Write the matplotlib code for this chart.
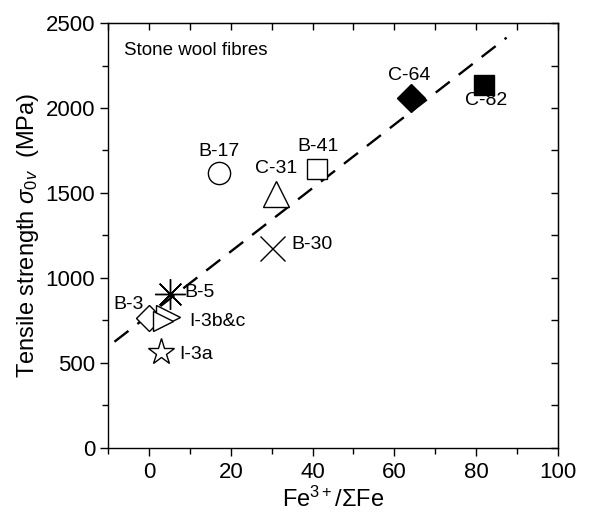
import matplotlib
matplotlib.use("Agg")
import matplotlib.pyplot as plt
from matplotlib.ticker import MultipleLocator

plt.rcParams['font.family'] = ['Liberation Sans', 'DejaVu Sans']
plt.rcParams['mathtext.fontset'] = 'custom'
plt.rcParams['mathtext.rm'] = 'Liberation Sans'
plt.rcParams['mathtext.it'] = 'Liberation Sans:italic'
plt.rcParams['mathtext.bf'] = 'Liberation Sans:bold'

# Fibre samples: Fe3+/sum Fe ratio (%) and tensile strength (MPa)
samples = ["B-17", "C-31", "B-41", "C-64", "C-82", "B-30", "B-5", "B-3", "I-3b", "I-3c", "I-3a"]
fe_ratio = [17, 31, 41, 64, 82, 30, 5, 0, 4.5, 3.5, 3]
strength = [1615, 1495, 1640, 2060, 2135, 1175, 905, 765, 770, 745, 565]

# Linear trend line end points
fit_x = [-8.5, 87.5]
fit_y = [625, 2414]

# Marker style per sample: (marker, size, filled)
styles = {
    "B-17": ("o", 16, False),
    "C-31": ("^", 19, False),
    "B-41": ("s", 15, False),
    "C-64": ("D", 14, True),
    "C-82": ("s", 15, True),
    "B-30": ("x", 18, False),
    "B-5": ((8, 2, 0), 22, False),
    "B-3": ("D", 13, False),
    "I-3b": (">", 17, False),
    "I-3c": (">", 15, False),
    "I-3a": ("*", 20, False),
}

# Label text and offset (points) for each labelled sample
labels = {
    "B-17": ("B-17", (0, 16)),
    "C-31": ("C-31", (0, 18)),
    "B-41": ("B-41", (1, 16.5)),
    "C-64": ("C-64", (-1, 16)),
    "C-82": ("C-82", (1.5, -11)),
    "B-30": ("B-30", (29, 3)),
    "B-5": ("B-5", (21.5, 1)),
    "B-3": ("B-3", (-15, 9.5)),
    "I-3b": ("I-3b&c", (36, -3)),
    "I-3a": ("I-3a", (25, -2)),
}

fig = plt.figure(figsize=(5.92, 5.17), dpi=100)
ax = fig.add_axes([0.183, 0.1335, 0.759, 0.822])

ax.plot(fit_x, fit_y, color="black", lw=1.7, dashes=(7.5, 4.8), zorder=1)

for name, x, y in zip(samples, fe_ratio, strength):
    marker, size, filled = styles[name]
    ax.plot([x], [y], linestyle="none", marker=marker, markersize=size,
            markerfacecolor="black" if filled else "white",
            markeredgecolor="black", markeredgewidth=1.0, zorder=2)
    if name in labels:
        text, off = labels[name]
        ax.annotate(text, (x, y), xytext=off, textcoords="offset points",
                    ha="center", va="center", fontsize=14, zorder=3)

ax.text(0.035, 0.955, "Stone wool fibres", transform=ax.transAxes,
        ha="left", va="top", fontsize=13.5)

ax.set_xlim(-10, 100)
ax.set_ylim(0, 2500)
ax.xaxis.set_major_locator(MultipleLocator(20))
ax.xaxis.set_minor_locator(MultipleLocator(10))
ax.yaxis.set_major_locator(MultipleLocator(500))
ax.yaxis.set_minor_locator(MultipleLocator(250))
ax.tick_params(which="both", direction="out", labelsize=16, width=1.0)
ax.tick_params(which="major", length=6)
ax.tick_params(which="minor", length=4)
ax.tick_params(axis="x", pad=4)

for spine in ax.spines.values():
    spine.set_linewidth(1.0)

top = ax.secondary_xaxis("top")
top.xaxis.set_major_locator(MultipleLocator(10))
top.tick_params(direction="in", length=5, width=1.0, labeltop=False)
right = ax.secondary_yaxis("right")
right.yaxis.set_major_locator(MultipleLocator(250))
right.tick_params(direction="in", length=5, width=1.0, labelright=False)

ax.set_xlabel(r"Fe$^{3+}$/$\Sigma$Fe", fontsize=17, labelpad=3)
ax.set_ylabel(r"Tensile strength $\sigma_{0v}$  (MPa)", fontsize=17, labelpad=3)

fig.savefig("out.png", dpi=100)
